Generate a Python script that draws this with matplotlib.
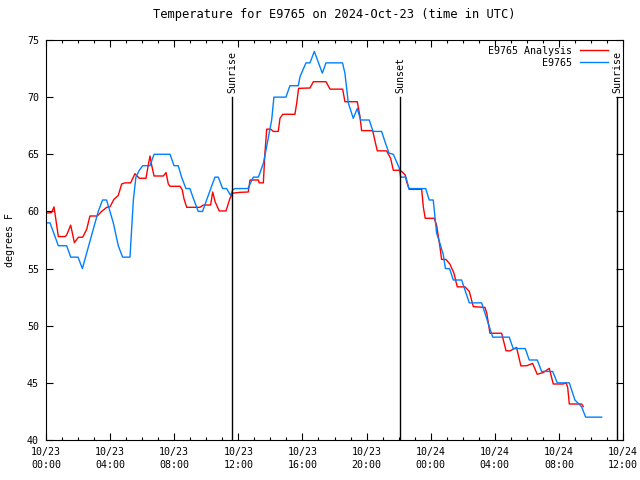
import matplotlib
matplotlib.use('Agg')
import matplotlib.pyplot as plt
from matplotlib.ticker import MultipleLocator

# hours since 2024-10-23 00:00 UTC
obs_t = [0.0, 0.25, 0.77, 1.29, 1.54, 2.0, 2.27, 3.06, 3.26, 3.53, 3.78, 4.2, 4.51, 4.78,
         5.24, 5.45, 5.61, 5.82, 6.03, 6.49, 6.74, 7.74, 7.99, 8.25, 8.46, 8.73, 8.98, 9.19,
         9.5, 9.77, 10.02, 10.54, 10.75, 11.02, 11.27, 11.52, 11.65, 11.79, 12.6, 12.93,
         13.25, 13.56, 13.77, 14.08, 14.22, 14.97, 15.22, 15.74, 15.85, 16.22, 16.47, 16.74,
         17.24, 17.47, 18.5, 18.65, 18.86, 19.17, 19.42, 19.63, 20.17, 20.4, 20.94, 21.15,
         21.4, 21.67, 22.04, 22.13, 22.46, 22.64, 23.69, 23.91, 24.16, 24.37, 24.58, 24.79,
         24.92, 25.18, 25.41, 25.93, 26.41, 27.18, 27.49, 27.87, 28.9, 29.15, 29.9, 30.15,
         30.65, 30.92, 31.61, 31.9, 32.65, 33.0, 33.42, 33.67, 34.67]
obs_temp = [59.0, 59.0, 57.0, 57.0, 56.0, 56.0, 55.0, 59.0, 60.0, 61.0, 61.0, 59.0, 57.0, 56.0,
            56.0, 61.0, 63.0, 63.6, 64.0, 64.0, 65.0, 65.0, 64.0, 64.0, 63.0, 62.0, 62.0, 61.15,
            60.0, 60.0, 61.0, 63.0, 63.0, 62.0, 62.0, 61.4, 61.9, 62.0, 62.0, 63.0,
            63.0, 64.2, 65.7, 68.0, 70.0, 70.0, 71.0, 71.0, 71.8, 73.0, 73.0, 74.0,
            72.1, 73.0, 73.0, 72.1, 69.5, 68.15, 69.0, 68.0, 68.0, 67.0, 67.0, 66.1,
            65.1, 65.0, 63.8, 63.0, 63.0, 62.0, 62.0, 61.0, 61.0, 58.1, 57.2, 56.2,
            55.0, 55.0, 54.0, 54.0, 52.0, 52.0, 50.65, 49.0, 49.0, 48.0, 48.0, 47.0,
            47.0, 46.0, 46.0, 45.0, 45.0, 43.5, 42.9, 42.0, 42.0]

ana_t = [0.0, 0.35, 0.5, 0.77, 1.19, 1.29, 1.54, 1.77, 2.02, 2.29, 2.54, 2.74, 3.2, 3.47,
         3.79, 3.99, 4.24, 4.51, 4.72, 4.93, 5.28, 5.55, 5.82, 6.24, 6.38, 6.49, 6.6, 6.74,
         7.32, 7.49, 7.63, 7.74, 8.36, 8.5, 8.61, 8.78, 9.6, 9.81, 10.27, 10.4, 10.55, 10.81,
         11.23, 11.48, 11.65, 12.1, 12.62, 12.73, 13.25, 13.3, 13.56, 13.66, 13.77, 14.02,
         14.18, 14.49, 14.6, 14.77, 15.53, 15.64, 15.76, 16.47, 16.68, 17.47, 17.72, 18.51,
         18.65, 19.42, 19.59, 19.69, 20.38, 20.52, 20.67, 21.25, 21.5, 21.67, 22.04, 22.19,
         22.41, 22.5, 22.66, 23.44, 23.54, 23.66, 24.22, 24.37, 24.58, 24.68, 24.95, 25.2,
         25.45, 25.66, 26.14, 26.41, 26.66, 27.39, 27.5, 27.7, 28.43, 28.7, 28.95, 29.36,
         29.63, 29.99, 30.36, 30.65, 31.02, 31.4, 31.65, 32.27, 32.45, 32.55, 32.65, 33.42,
         33.52]
ana_temp = [59.85, 59.9, 60.4, 57.8, 57.8, 57.94, 58.8, 57.27, 57.74, 57.74, 58.44, 59.6, 59.6, 60.0,
            60.36, 60.4, 61.06, 61.4, 62.4, 62.5, 62.5, 63.3, 62.9, 62.9, 64.06, 64.85, 64.0, 63.1,
            63.1, 63.4, 62.4, 62.2, 62.2, 61.9, 61.1, 60.36, 60.36, 60.56, 60.56, 61.7, 60.85, 60.04,
            60.04, 61.15, 61.6, 61.67, 61.7, 62.75, 62.75, 62.5, 62.5, 65.1, 67.2, 67.2,
            67.0, 67.0, 68.15, 68.5, 68.5, 69.46, 70.77, 70.8, 71.35, 71.35, 70.7, 70.7,
            69.6, 69.6, 68.3, 67.07, 67.07, 66.2, 65.3, 65.3, 64.65, 63.6, 63.6, 63.5,
            63.2, 62.6, 61.93, 61.93, 60.4, 59.4, 59.4, 58.8, 56.9, 55.8, 55.8, 55.4,
            54.6, 53.4, 53.4, 53.0, 51.67, 51.6, 51.1, 49.34, 49.34, 47.81, 47.8, 48.1,
            46.48, 46.5, 46.7, 45.75, 45.9, 46.27, 44.9, 44.9, 45.0, 44.6, 43.15, 43.15,
            42.92]

sun_t = [11.6, 22.08, 35.62]
sun_lbl = ['Sunrise', 'Sunset', 'Sunrise']

xtick_pos = [0, 4, 8, 12, 16, 20, 24, 28, 32, 36]
xtick_lbl = ['10/23\n00:00', '10/23\n04:00', '10/23\n08:00', '10/23\n12:00', '10/23\n16:00',
             '10/23\n20:00', '10/24\n00:00', '10/24\n04:00', '10/24\n08:00', '10/24\n12:00']

plt.rcParams['font.family'] = 'DejaVu Sans Mono'
plt.rcParams['font.size'] = 7.2

fig = plt.figure(figsize=(6.4, 4.8), dpi=100)
ax = fig.add_axes([46/640, 40/480, 577/640, 400/480])

ax.plot(ana_t, ana_temp, color='#ff0000', lw=1.0, label='E9765 Analysis')
ax.plot(obs_t, obs_temp, color='#0080ff', lw=1.0, label='E9765')

for t, s in zip(sun_t, sun_lbl):
    ax.plot([t, t], [40, 70], color='black', lw=1.0, zorder=5)
    ax.text(t, 70.4, s, rotation=90, ha='center', va='bottom')

ax.set_xlim(0, 36)
ax.set_ylim(40, 75)
ax.set_xticks(xtick_pos)
ax.set_xticklabels(xtick_lbl, linespacing=1.35)
ax.xaxis.set_minor_locator(MultipleLocator(1))
ax.set_yticks(range(40, 76, 5))
ax.tick_params(which='both', direction='in', top=True, right=True, width=0.8)
ax.tick_params(which='major', length=5, pad=5)
ax.tick_params(which='minor', length=2.5)
for sp in ax.spines.values():
    sp.set_linewidth(0.8)

ax.set_ylabel('degrees F', labelpad=9)
ax.set_title('Temperature for E9765 on 2024-Oct-23 (time in UTC)', pad=16)
ax.legend(loc='upper right', frameon=False, markerfirst=False, handlelength=2.8,
          borderaxespad=0.2, labelspacing=0.2, bbox_to_anchor=(0.985, 1.0))

fig.savefig('out.png', dpi=100)
